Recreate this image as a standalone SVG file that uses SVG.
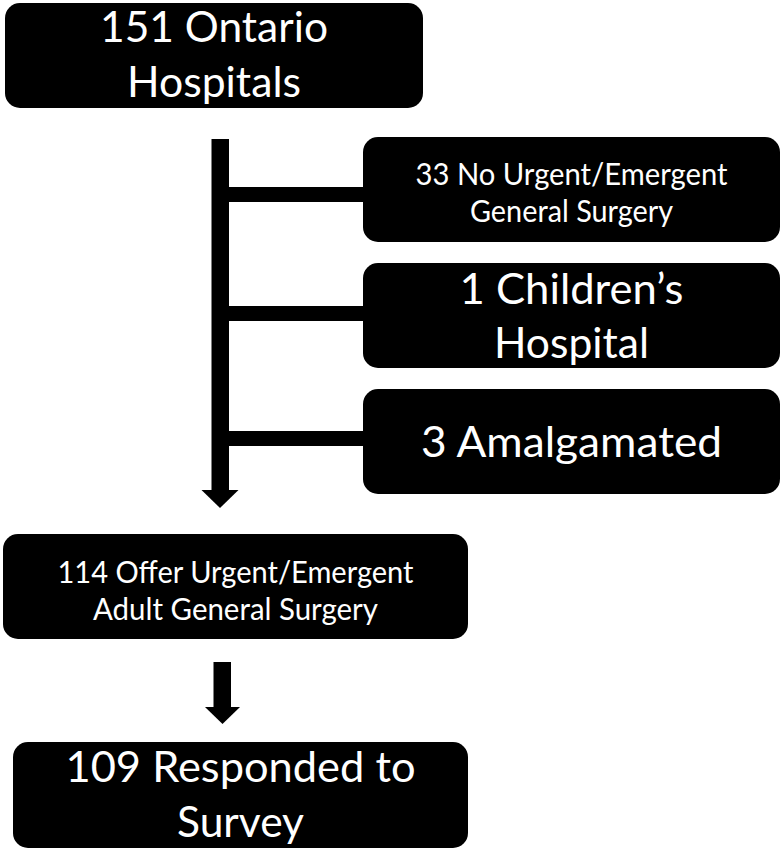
<svg xmlns="http://www.w3.org/2000/svg" width="782" height="849" viewBox="0 0 782 849">
<style>
.box{fill:#000}
.t{fill:#fff;font-family:Lato,"Open Sans","Liberation Sans",sans-serif;text-anchor:middle;}
.big{font-size:42px}
.small{font-size:30px}
.c{fill:#000}
</style>
<rect width="782" height="849" fill="#fff"/>
<g id="connectors">
  <rect class="c" x="211.5" y="139" width="17.5" height="352"/>
  <polygon class="c" points="201.5,490 238.5,490 220,508"/>
  <rect class="c" x="229" y="187" width="136" height="15"/>
  <rect class="c" x="229" y="306" width="136" height="15"/>
  <rect class="c" x="229" y="431" width="136" height="15"/>
  <rect class="c" x="213.5" y="662" width="17.5" height="46"/>
  <polygon class="c" points="205,707 240,707 222.5,724"/>
</g>
<g id="n1">
  <rect class="box" x="5" y="3" width="418" height="105" rx="15"/>
  <text class="t big" x="214" y="42" textLength="228" lengthAdjust="spacingAndGlyphs">151 Ontario</text>
  <text class="t big" x="214" y="97" textLength="174" lengthAdjust="spacingAndGlyphs">Hospitals</text>
</g>
<g id="n2">
  <rect class="box" x="363" y="137" width="417" height="105" rx="15"/>
  <text class="t small" x="571.5" y="185" textLength="312" lengthAdjust="spacingAndGlyphs">33 No Urgent/Emergent</text>
  <text class="t small" x="571.5" y="222" textLength="203" lengthAdjust="spacingAndGlyphs">General Surgery</text>
</g>
<g id="n3">
  <rect class="box" x="363" y="263" width="417" height="105" rx="15"/>
  <text class="t big" x="571.5" y="304" textLength="224" lengthAdjust="spacingAndGlyphs">1 Children’s</text>
  <text class="t big" x="571.5" y="358" textLength="155" lengthAdjust="spacingAndGlyphs">Hospital</text>
</g>
<g id="n4">
  <rect class="box" x="363" y="389" width="417" height="105" rx="15"/>
  <text class="t big" x="571.5" y="457" textLength="301" lengthAdjust="spacingAndGlyphs">3 Amalgamated</text>
</g>
<g id="n5">
  <rect class="box" x="3" y="534" width="465" height="105" rx="15"/>
  <text class="t small" x="235.5" y="583" textLength="356" lengthAdjust="spacingAndGlyphs">114 Offer Urgent/Emergent</text>
  <text class="t small" x="235.5" y="620" textLength="285" lengthAdjust="spacingAndGlyphs">Adult General Surgery</text>
</g>
<g id="n6">
  <rect class="box" x="13" y="742" width="455" height="106" rx="15"/>
  <text class="t big" x="240.5" y="782" textLength="350" lengthAdjust="spacingAndGlyphs">109 Responded to</text>
  <text class="t big" x="240.5" y="837" textLength="127" lengthAdjust="spacingAndGlyphs">Survey</text>
</g>
</svg>
